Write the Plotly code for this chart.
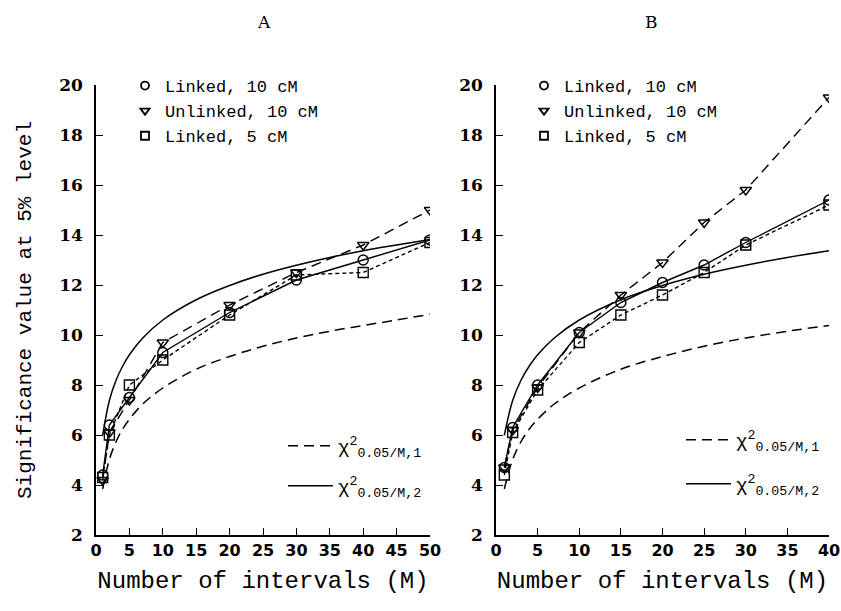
import plotly.graph_objects as go
from plotly.subplots import make_subplots

# ---------------- data ----------------
M_A = [1, 2, 5, 10, 20, 30, 40, 50]
linked10_A = [4.4, 6.4, 7.5, 9.3, 10.9, 12.2, 13.0, 13.8]
unlinked10_A = [4.2, 6.1, 7.4, 9.7, 11.2, 12.5, 13.6, 15.0]
linked5_A = [4.3, 6.0, 8.0, 9.0, 10.8, 12.4, 12.5, 13.7]

M_B = [1, 2, 5, 10, 15, 20, 25, 30, 40]
linked10_B = [4.7, 6.3, 8.0, 10.1, 11.3, 12.1, 12.8, 13.7, 15.4]
unlinked10_B = [4.7, 6.2, 7.9, 10.1, 11.6, 12.9, 14.5, 15.8, 19.5]
linked5_B = [4.4, 6.1, 7.8, 9.7, 10.8, 11.6, 12.5, 13.6, 15.2]

M_curve = [1, 2, 3, 4, 5, 7, 10, 15, 20, 25, 30, 35, 40, 45, 50]
chi_df1 = [3.84, 5.02, 5.73, 6.24, 6.63, 7.24, 7.88, 8.63, 9.14, 9.55, 9.88, 10.15, 10.38, 10.60, 10.83]
chi_df2 = [5.99, 7.38, 8.19, 8.76, 9.21, 9.88, 10.60, 11.41, 11.98, 12.43, 12.79, 13.10, 13.37, 13.60, 13.82]
M_curve_B = M_curve[:13]
chi_df1_B = chi_df1[:13]
chi_df2_B = chi_df2[:13]

x_ticks_A = [0, 5, 10, 15, 20, 25, 30, 35, 40, 45, 50]
x_ticks_B = [0, 5, 10, 15, 20, 25, 30, 35, 40]
y_ticks = [2, 4, 6, 8, 10, 12, 14, 16, 18, 20]

series_names = ["Linked, 10 cM", "Unlinked, 10 cM", "Linked, 5 cM"]
chi_names = ["χ<sup>2</sup><sub>0.05/M,1</sub>", "χ<sup>2</sup><sub>0.05/M,2</sub>"]

# ---------------- styles ----------------
BLACK = "black"
MONO = "Liberation Mono, Courier New, monospace"
symbols = ["circle-open", "triangle-down-open", "square-open"]
dashes = ["solid", "10px,6px", "4px,3px"]
chi_dashes = ["10px,6px", "solid"]

fig = make_subplots(rows=1, cols=2)

def add_panel(col, M, series, Mc, c1, c2, leg_series, leg_chi):
    # chi-square curves
    fig.add_trace(go.Scatter(x=Mc, y=c1, mode="lines", line=dict(color=BLACK, width=1.5, dash="10px,6px", shape="spline"),
                             showlegend=False, hoverinfo="skip"), row=1, col=col)
    fig.add_trace(go.Scatter(x=Mc, y=c2, mode="lines", line=dict(color=BLACK, width=1.5, shape="spline"),
                             showlegend=False, hoverinfo="skip"), row=1, col=col)
    for vals, sym, dsh in zip(series, symbols, dashes):
        fig.add_trace(go.Scatter(x=M, y=vals, mode="lines+markers",
                                 line=dict(color=BLACK, width=1.4, dash=dsh),
                                 marker=dict(symbol=sym, size=10, color=BLACK, line=dict(width=1.4, color=BLACK)),
                                 showlegend=False), row=1, col=col)
    # legend-only entries
    for name, sym in zip(series_names, symbols):
        fig.add_trace(go.Scatter(x=[None], y=[None], mode="markers", name=name,
                                 marker=dict(symbol=sym, size=8, color=BLACK, line=dict(width=1.8, color=BLACK)),
                                 legend=leg_series), row=1, col=col)
    for name, dsh, leg in zip(chi_names, chi_dashes, leg_chi):
        fig.add_trace(go.Scatter(x=[None], y=[None], mode="lines", name=name,
                                 line=dict(color=BLACK, width=1.5, dash=dsh),
                                 legend=leg), row=1, col=col)

add_panel(1, M_A, [linked10_A, unlinked10_A, linked5_A], M_curve, chi_df1, chi_df2, "legend", ["legend3", "legend4"])
add_panel(2, M_B, [linked10_B, unlinked10_B, linked5_B], M_curve_B, chi_df1_B, chi_df2_B, "legend2", ["legend5", "legend6"])

W, H = 841, 611
ydom = [(H - 535) / H, (H - 85) / H]

axis_common = dict(showgrid=False, zeroline=False, showline=True, linecolor=BLACK, linewidth=1.5,
                   ticks="inside", ticklen=7, tickwidth=1.3, tickcolor=BLACK, mirror=False, automargin=False)

fig.update_xaxes(**axis_common, tickfont=dict(family="DejaVu Sans", size=16, color=BLACK, weight="bold"))
fig.update_yaxes(**axis_common, range=[2, 20], tickvals=y_ticks, domain=ydom,
                 tickfont=dict(family="DejaVu Serif", size=17, color=BLACK, weight="bold"), ticklabelstandoff=8)

fig.update_xaxes(range=[0, 50], tickvals=x_ticks_A, domain=[96 / W, 430 / W],
                 title=dict(text="Number of intervals (M)", font=dict(family=MONO, size=24, color=BLACK), standoff=12),
                 row=1, col=1)
fig.update_xaxes(range=[0, 40], tickvals=x_ticks_B, domain=[496 / W, 829 / W],
                 title=dict(text="Number of intervals (M)", font=dict(family=MONO, size=24, color=BLACK), standoff=12),
                 row=1, col=2)
fig.update_yaxes(title=dict(text="Significance value at 5% level", font=dict(family=MONO, size=21, color=BLACK), standoff=22),
                 row=1, col=1)

leg_font = dict(family=MONO, size=17, color=BLACK)
chi_font = dict(family=MONO, size=19, color=BLACK)

def chi_leg(x_px, y_px):
    return dict(x=x_px / W, y=(H - y_px) / H, xanchor="left", yanchor="middle", font=chi_font,
                bgcolor="rgba(0,0,0,0)", itemwidth=45)

fig.update_layout(
    width=W, height=H,
    margin=dict(l=0, r=0, t=0, b=0, autoexpand=False),
    paper_bgcolor="white", plot_bgcolor="white",
    legend=dict(x=125 / W, y=(H - 68) / H, xanchor="left", yanchor="top", font=leg_font,
                bgcolor="rgba(0,0,0,0)", itemwidth=30, tracegroupgap=0),
    legend2=dict(x=524 / W, y=(H - 68) / H, xanchor="left", yanchor="top", font=leg_font,
                 bgcolor="rgba(0,0,0,0)", itemwidth=30),
    legend3=chi_leg(283, 446),
    legend4=chi_leg(283, 486),
    legend5=chi_leg(681, 440),
    legend6=chi_leg(681, 484),
    annotations=[
        dict(text="A", x=255 / W, y=(H - 22) / H, xref="paper", yref="paper", showarrow=False, yanchor="middle",
             font=dict(family="DejaVu Serif", size=17, color=BLACK)),
        dict(text="B", x=660 / W, y=(H - 22) / H, xref="paper", yref="paper", showarrow=False, yanchor="middle",
             font=dict(family="DejaVu Serif", size=17, color=BLACK)),
    ],
)

fig.write_html("out.html", config={"displayModeBar": False},
               post_script="document.body.style.margin='0';")
